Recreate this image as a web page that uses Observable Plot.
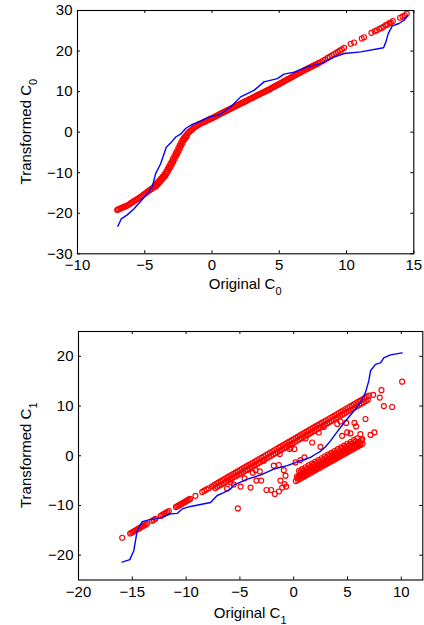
<!DOCTYPE html>
<html><head><meta charset="utf-8">
<script src="https://cdn.jsdelivr.net/npm/d3@7"></script>
<script src="https://cdn.jsdelivr.net/npm/@observablehq/plot@0.6"></script>
<style>
body{margin:0;background:#fff;}
#wrap{position:relative;width:424px;height:625px;overflow:hidden;}
#wrap svg{position:absolute;left:0;}
</style></head><body><div id="wrap"></div>
<script>
// ---------- Panel 1 : C0 ----------
const c0Blue = [[-7.0,-23.2],[-6.75,-21.4],[-6.3,-20.4],[-5.8,-18.9],[-5.07,-16.2],[-4.44,-13.5],[-4.2,-10.3],[-3.82,-7.8],[-3.4,-3.7],[-3.08,-2.7],[-2.7,-1.2],[-2.34,-0.5],[-1.96,0.9],[-1.47,1.9],[-0.85,2.7],[-0.23,3.7],[0.64,4.4],[1.38,6.2],[2.13,8.7],[3.12,10.3],[3.86,12.4],[4.86,13.2],[5.35,14.3],[6.1,14.8],[7.1,16.1],[8.08,16.9],[9.07,18.5],[9.82,19.4],[11.06,19.8],[12.75,20.8],[12.92,22.2],[13.1,24.3],[13.4,26.2],[13.9,26.8],[14.28,27.6],[14.53,28.7]];
const c0Red = [[-7.05,-19.2],[-7.0,-19.1],[-6.9,-18.95],[-6.8,-18.8],[-6.7,-18.65],[-6.6,-18.5],[-6.5,-18.38],[-6.4,-18.25],[-6.3,-18.08],[-6.2,-17.9],[-6.1,-17.68],[-6.0,-17.45],[-5.9,-17.22],[-5.8,-17.0],[-5.7,-16.8],[-5.6,-16.6],[-5.5,-16.4],[-5.4,-16.2],[-5.3,-15.95],[-5.2,-15.7],[-5.1,-15.45],[-5.0,-15.2],[-4.9,-14.95],[-4.8,-14.7],[-4.7,-14.45],[-4.6,-14.2],[-4.5,-14.0],[-4.4,-13.75],[-4.3,-13.45],[-4.2,-13.05],[-4.1,-12.65],[-4.0,-12.3],[-3.9,-11.9],[-3.8,-11.5],[-3.7,-11.15],[-3.6,-10.8],[-3.5,-10.25],[-3.4,-9.7],[-3.3,-9.1],[-3.2,-8.5],[-3.1,-7.9],[-3.0,-7.3],[-2.9,-6.6],[-2.8,-5.95],[-2.7,-5.3],[-2.6,-4.65],[-2.5,-3.95],[-2.4,-3.25],[-2.3,-2.6],[-2.2,-1.95],[-2.1,-1.5],[-2.0,-1.1],[-1.9,-0.7],[-1.8,-0.3],[-1.7,0.05],[-1.6,0.35],[-1.5,0.6],[-1.4,0.9],[-1.3,1.2],[-1.2,1.45],[-1.1,1.65],[-1.0,1.85],[-0.9,2.05],[-0.8,2.2],[-0.7,2.35],[-0.6,2.5],[-0.5,2.65],[-0.4,2.8],[-0.3,3.0],[-0.2,3.15],[-0.1,3.3],[0,3.45],[0.1,3.6],[0.2,3.8],[0.3,3.95],[0.4,4.15],[0.5,4.3],[0.6,4.5],[0.7,4.65],[0.8,4.8],[0.9,5.0],[1.0,5.15],[1.1,5.3],[1.2,5.5],[1.3,5.65],[1.4,5.8],[1.5,6.0],[1.6,6.15],[1.7,6.3],[1.8,6.5],[1.9,6.65],[2.0,6.8],[2.1,7.0],[2.2,7.15],[2.3,7.3],[2.4,7.45],[2.5,7.65],[2.6,7.8],[2.7,8.0],[2.8,8.15],[2.9,8.3],[3.0,8.45],[3.1,8.65],[3.2,8.8],[3.3,9.0],[3.4,9.15],[3.5,9.3],[3.6,9.45],[3.7,9.65],[3.8,9.8],[3.9,9.95],[4.0,10.1],[4.1,10.3],[4.2,10.45],[4.3,10.6],[4.4,10.8],[4.5,11.0],[4.6,11.2],[4.7,11.35],[4.8,11.55],[4.9,11.7],[5.0,11.9],[5.1,12.05],[5.2,12.25],[5.3,12.45],[5.4,12.65],[5.5,12.8],[5.6,13.0],[5.7,13.15],[5.8,13.35],[5.9,13.5],[6.0,13.7],[6.1,13.9],[6.2,14.1],[6.3,14.25],[6.4,14.45],[6.5,14.6],[6.6,14.8],[6.7,15.0],[6.8,15.15],[6.9,15.3],[7.0,15.5],[7.1,15.65],[7.2,15.8],[7.3,16.0],[7.4,16.15],[7.5,16.3],[7.6,16.5],[7.7,16.65],[7.8,16.8],[7.9,17.0],[8.0,17.15],[8.2,17.5],[8.4,17.9],[8.6,18.3],[8.75,18.6],[8.9,18.9],[9.05,19.2],[9.2,19.5],[9.35,19.8],[9.5,20.1],[9.65,20.4],[9.82,20.8],[10.31,21.8],[10.56,22.1],[11.13,23.1],[11.3,23.4],[11.85,24.5],[12.1,24.9],[12.25,25.1],[12.45,25.5],[12.6,25.7],[12.75,26.0],[12.92,26.4],[13.04,26.5],[13.19,26.9],[13.29,27.0],[13.44,27.4],[13.98,28.2],[14.16,28.5],[14.33,28.8],[14.48,29.2]];
// second row of the thick, steep part of the band
const c0RedSteep = [[-4.18,-13.45],[-4.08,-13.05],[-3.98,-12.65],[-3.88,-12.3],[-3.78,-11.9],[-3.68,-11.5],[-3.58,-11.15],[-3.48,-10.8],[-3.38,-10.25],[-3.28,-9.7],[-3.18,-9.1],[-3.08,-8.5],[-2.98,-7.9],[-2.88,-7.3],[-2.78,-6.6],[-2.68,-5.95],[-2.58,-5.3],[-2.48,-4.65],[-2.38,-3.95],[-2.28,-3.25],[-2.18,-2.6],[-2.08,-1.95],[-1.98,-1.5],[-1.88,-1.1]];
const c0XTicks = [-10,-5,0,5,10,15];
const c0YTicks = [-30,-20,-10,0,10,20,30];

// ---------- Panel 2 : C1 ----------
const c1Blue = [[-15.94,-21.4],[-15.23,-20.9],[-14.86,-19.1],[-14.7,-17.1],[-14.55,-15.1],[-14.08,-13.25],[-13.47,-12.9],[-12.38,-12.5],[-11.45,-11.7],[-10.83,-11.6],[-10.36,-10.7],[-9.59,-10.2],[-7.73,-9.4],[-7.11,-8.0],[-6.5,-7.4],[-5.87,-6.7],[-5.57,-5.9],[-4.32,-4.7],[-3.09,-3.9],[-1.85,-2.67],[-0.6,-2.0],[0.63,-1.0],[1.56,-0.33],[2.18,0.5],[2.49,0.9],[2.96,1.8],[3.42,3.0],[3.88,4.35],[4.35,5.7],[4.97,7.4],[5.59,9.0],[6.21,10.7],[6.67,12.7],[6.98,15.06],[7.14,17.1],[7.6,18.4],[8.07,18.7],[8.37,19.7],[9.0,20.3],[10.08,20.7]];
// upper red band, left (sparse) part
const c1RedUpperLeft = [[-15.2,-15.64],[-15.08,-15.49],[-14.96,-15.34],[-14.84,-15.19],[-14.72,-15.04],[-14.6,-14.89],[-14.48,-14.74],[-14.36,-14.59],[-14.24,-14.44],[-14.12,-14.29],[-14.0,-14.14],[-13.88,-13.99],[-13.76,-13.84],[-13.64,-13.69],[-13.15,-13.1],[-13.0,-12.9],[-12.85,-12.7],[-12.35,-12.1],[-12.2,-11.9],[-12.05,-11.7],[-11.9,-11.5],[-11.75,-11.35],[-11.6,-11.15],[-10.95,-10.34],[-10.83,-10.19],[-10.71,-10.04],[-10.59,-9.89],[-10.47,-9.74],[-10.35,-9.59],[-10.23,-9.44],[-10.11,-9.29],[-9.99,-9.14],[-9.87,-8.99],[-9.75,-8.84],[-9.63,-8.69],[-9.13,-8.06],[-8.5,-7.28],[-8.3,-7.03],[-8.1,-6.78],[-7.9,-6.53],[-7.6,-6.2]];
// upper red band, dense part (top row and lower row)
const c1UpperTopX = [-7.4,-7.2,-7.0,-6.8,-6.6,-6.4,-6.2,-6.0,-5.8,-5.6,-5.4,-5.2,-5.0,-4.8,-4.6,-4.4,-4.2,-4.0,-3.8,-3.6,-3.4,-3.2,-3.0,-2.8,-2.6,-2.4,-2.2,-2.0,-1.8,-1.6,-1.4,-1.2,-1.0,-0.8,-0.6,-0.4,-0.2,0,0.2,0.4,0.6,0.8,1.0,1.2,1.4,1.6,1.8,2.0,2.2,2.4,2.6,2.8,3.0,3.2,3.4,3.6,3.8,4.0,4.2,4.4,4.6,4.8,5.0,5.2,5.4,5.6,5.8,6.0,6.2,6.4,6.6,6.8,7.0];
const c1UpperTopY = [-5.9,-5.65,-5.4,-5.15,-4.9,-4.65,-4.4,-4.15,-3.9,-3.65,-3.4,-3.15,-2.9,-2.65,-2.4,-2.15,-1.9,-1.65,-1.4,-1.15,-0.9,-0.65,-0.4,-0.15,0.1,0.35,0.6,0.85,1.1,1.35,1.6,1.85,2.1,2.35,2.6,2.85,3.1,3.35,3.6,3.85,4.1,4.35,4.6,4.85,5.1,5.35,5.6,5.85,6.1,6.35,6.6,6.85,7.1,7.35,7.6,7.85,8.1,8.35,8.6,8.85,9.1,9.35,9.6,9.85,10.1,10.35,10.6,10.85,11.1,11.35,11.6,11.85,12.1];
const c1UpperLowX = [-7.3,-7.1,-6.9,-6.7,-6.5,-6.3,-6.1,-5.9,-5.7,-5.5,-5.3,-5.1,-4.9,-4.7,-4.5,-4.3,-4.1,-3.9,-3.7,-3.5,-3.3,-3.1,-2.9,-2.7,-2.5,-2.3,-2.1,-1.9,-1.7,-1.5,-1.3,-1.1,-0.9,-0.7,-0.5,-0.3,-0.1,0.1,0.3,0.5,0.7,0.9,1.1,1.3,1.5,1.7,1.9,2.1,2.3,2.5,2.7,2.9,3.1,3.3,3.5,3.7,3.9,4.1,4.3,4.5,4.7,4.9,5.1,5.3,5.5,5.7,5.9,6.1,6.3,6.5,6.7,6.9];
const c1UpperLowY = [-6.5,-6.25,-6.0,-5.75,-5.5,-5.25,-5.0,-4.75,-4.5,-4.25,-4.0,-3.75,-3.5,-3.25,-3.0,-2.75,-2.5,-2.25,-2.0,-1.75,-1.5,-1.25,-1.0,-0.75,-0.5,-0.25,0,0.25,0.5,0.75,1.0,1.25,1.5,1.75,2.0,2.25,2.5,2.75,3.0,3.25,3.5,3.75,4.0,4.25,4.5,4.75,5.0,5.25,5.5,5.75,6.0,6.25,6.5,6.75,7.0,7.25,7.5,7.75,8.0,8.25,8.5,8.75,9.0,9.25,9.5,9.75,10.0,10.25,10.5,10.75,11.0,11.25];
// lower red band (rows from its sharp lower edge upward)
const c1LowerAX = [0.2,0.4,0.6,0.8,1.0,1.2,1.4,1.6,1.8,2.0,2.2,2.4,2.6,2.8,3.0,3.2,3.4,3.6,3.8,4.0,4.2,4.4,4.6,4.8,5.0,5.2,5.4,5.6,5.8,6.0,6.2,6.4];
const c1LowerAY = [-5.1,-4.86,-4.62,-4.37,-4.13,-3.89,-3.65,-3.41,-3.16,-2.92,-2.68,-2.44,-2.2,-1.95,-1.71,-1.47,-1.23,-0.99,-0.74,-0.5,-0.26,-0.02,0.22,0.47,0.71,0.95,1.19,1.43,1.68,1.92,2.16,2.4];
const c1LowerDX = [0.4,0.6,0.8,1.0,1.2,1.4,1.6,1.8,2.0,2.2,2.4,2.6,2.8,3.0,3.2,3.4,3.6,3.8,4.0,4.2,4.4,4.6,4.8,5.0,5.2,5.4,5.6,5.8,6.0,6.2];
const c1LowerDY = [-4.46,-4.22,-3.98,-3.73,-3.49,-3.25,-3.01,-2.77,-2.52,-2.28,-2.04,-1.8,-1.56,-1.31,-1.07,-0.83,-0.59,-0.35,-0.1,0.14,0.38,0.62,0.86,1.11,1.35,1.59,1.83,2.07,2.32,2.56];
const c1LowerBX = [0.3,0.5,0.7,0.9,1.1,1.3,1.5,1.7,1.9,2.1,2.3,2.5,2.7,2.9,3.1,3.3,3.5,3.7,3.9,4.1,4.3,4.5,4.7,4.9,5.1,5.3,5.5,5.7,5.9,6.1,6.3];
const c1LowerBY = [-4.18,-3.94,-3.7,-3.45,-3.21,-2.97,-2.73,-2.49,-2.24,-2.0,-1.76,-1.52,-1.28,-1.03,-0.79,-0.55,-0.31,-0.07,0.18,0.42,0.66,0.9,1.14,1.39,1.63,1.87,2.11,2.35,2.6,2.84,3.08];
const c1LowerEX = [0.65,0.95,1.25,1.55,1.85,2.15,2.45,2.75,3.05,3.35,3.65,3.95,4.25,4.55,4.85,5.15,5.45,5.75];
const c1LowerEY = [-3.3,-2.94,-2.57,-2.21,-1.85,-1.48,-1.12,-0.76,-0.4,-0.03,0.33,0.69,1.06,1.42,1.78,2.15,2.51,2.87];
const c1LowerCX = [0.5,0.8,1.1,1.4,1.7,2.0,2.3,2.6,2.9,3.2,3.5,3.8,4.1,4.4,4.7,5.0,5.3,5.6,5.9];
const c1LowerCY = [-3.04,-2.68,-2.31,-1.95,-1.59,-1.22,-0.86,-0.5,-0.14,0.23,0.59,0.95,1.32,1.68,2.04,2.41,2.77,3.13,3.5];
// scattered red points
const c1RedScatter = [[-15.94,-16.5],[-5.19,-10.6],[-4.01,-6.4],[-4.94,-6.2],[-5.57,-5.8],[-5.87,-5.35],[-6.2,-6.6],[-4.57,-4.55],[-4.32,-2.87],[-3.8,-3.4],[-3.55,-2.9],[-3.15,-3.15],[-3.46,-5.0],[-3.02,-5.0],[-2.53,-6.9],[-2.09,-6.9],[-1.75,-7.7],[-1.38,-7.2],[-1.07,-6.4],[-1.23,-5.0],[-0.85,-5.7],[-0.7,-6.2],[-0.92,-2.9],[-0.76,-4.0],[-1.85,-2.0],[-1.38,-1.87],[-2.78,-1.0],[-1.29,0.33],[-0.39,1.34],[-0.3,1.67],[0.07,1.34],[0.17,-1.34],[0.63,-0.87],[1.0,-0.33],[1.72,2.67],[1.1,3.48],[2.33,4.68],[2.49,1.8],[2.8,5.8],[4.04,6.4],[4.35,6.9],[4.88,6.6],[5.65,6.6],[5.8,5.9],[6.67,7.4],[4.5,4.0],[4.97,4.7],[5.28,4.5],[6.2,4.35],[6.37,3.35],[7.14,4.2],[7.5,4.7],[7.39,12.25],[8.16,13.2],[8.0,11.7],[8.38,10.0],[9.15,9.8],[10.08,14.9]];
const c1XTicks = [-20,-15,-10,-5,0,5,10];
const c1YTicks = [-20,-10,0,10,20];

const c1Red = [
  ...c1RedUpperLeft,
  ...d3.zip(c1UpperTopX, c1UpperTopY),
  ...d3.zip(c1UpperLowX, c1UpperLowY),
  ...d3.zip(c1LowerAX, c1LowerAY),
  ...d3.zip(c1LowerDX, c1LowerDY),
  ...d3.zip(c1LowerBX, c1LowerBY),
  ...d3.zip(c1LowerEX, c1LowerEY),
  ...d3.zip(c1LowerCX, c1LowerCY),
  ...c1RedScatter
];

const FONT = "'Liberation Sans', Arial, Helvetica, sans-serif";

function panel(o) {
  const W = 424;
  const fh = o.height - o.mt - o.mb, fw = W - o.ml - o.mr;
  const svg = Plot.plot({
    width: W, height: o.height,
    marginTop: o.mt, marginBottom: o.mb, marginLeft: o.ml, marginRight: o.mr,
    style: {fontFamily: FONT, fontSize: "15px", background: "white", color: "black", overflow: "visible"},
    x: {domain: o.xDomain},
    y: {domain: o.yDomain},
    marks: [
      Plot.axisX({ticks: o.xTicks, anchor: "bottom", tickSize: 0, tickPadding: 6, label: null}),
      Plot.axisY({ticks: o.yTicks, anchor: "left", tickSize: 0, tickPadding: 5, label: null}),
      Plot.ruleX(o.xTicks, {x: d => d, insetTop: fh - 3, stroke: "black"}),
      Plot.ruleX(o.xTicks, {x: d => d, insetBottom: fh - 3, stroke: "black"}),
      Plot.ruleY(o.yTicks, {y: d => d, insetRight: fw - 3, stroke: "black"}),
      Plot.ruleY(o.yTicks, {y: d => d, insetLeft: fw - 3, stroke: "black"}),
      Plot.dot(o.red, {x: d => d[0], y: d => d[1], r: 2.5, stroke: "#ff0000", strokeWidth: 1.15, fill: "none"}),
      Plot.line(o.blue, {x: d => d[0], y: d => d[1], stroke: "#0000ff", strokeWidth: 1.4}),
      Plot.frame({stroke: "black", strokeWidth: 1.1})
    ]
  });
  const s = d3.select(svg);
  const xl = s.append("text")
    .attr("x", o.ml + fw / 2).attr("y", o.height - o.mb + o.xlOff)
    .attr("text-anchor", "middle").attr("font-family", FONT).attr("font-size", 15).attr("fill", "black");
  xl.append("tspan").text("Original C");
  xl.append("tspan").attr("dy", 6).attr("font-size", 11).text(o.sub);
  const yl = s.append("text")
    .attr("transform", `translate(31,${o.mt + fh / 2}) rotate(-90)`)
    .attr("text-anchor", "middle").attr("font-family", FONT).attr("font-size", 15).attr("fill", "black");
  yl.append("tspan").text("Transformed C");
  yl.append("tspan").attr("dy", 6).attr("font-size", 11).text(o.sub);
  svg.style.top = o.top + "px";
  return svg;
}

const wrap = document.getElementById("wrap");
wrap.appendChild(panel({
  top: 0, height: 300, mt: 10, mb: 46.7, ml: 77, mr: 10.7,
  xDomain: [-10, 15], yDomain: [-30, 30], xTicks: c0XTicks, yTicks: c0YTicks,
  red: [...c0Red, ...c0RedSteep], blue: c0Blue, sub: "0", xlOff: 36
}));
wrap.appendChild(panel({
  top: 310, height: 315, mt: 21, mb: 45.5, ml: 78, mr: 1.7,
  xDomain: [-20, 12], yDomain: [-25, 25], xTicks: c1XTicks, yTicks: c1YTicks,
  red: c1Red, blue: c1Blue, sub: "1", xlOff: 38
}));
</script></body></html>
